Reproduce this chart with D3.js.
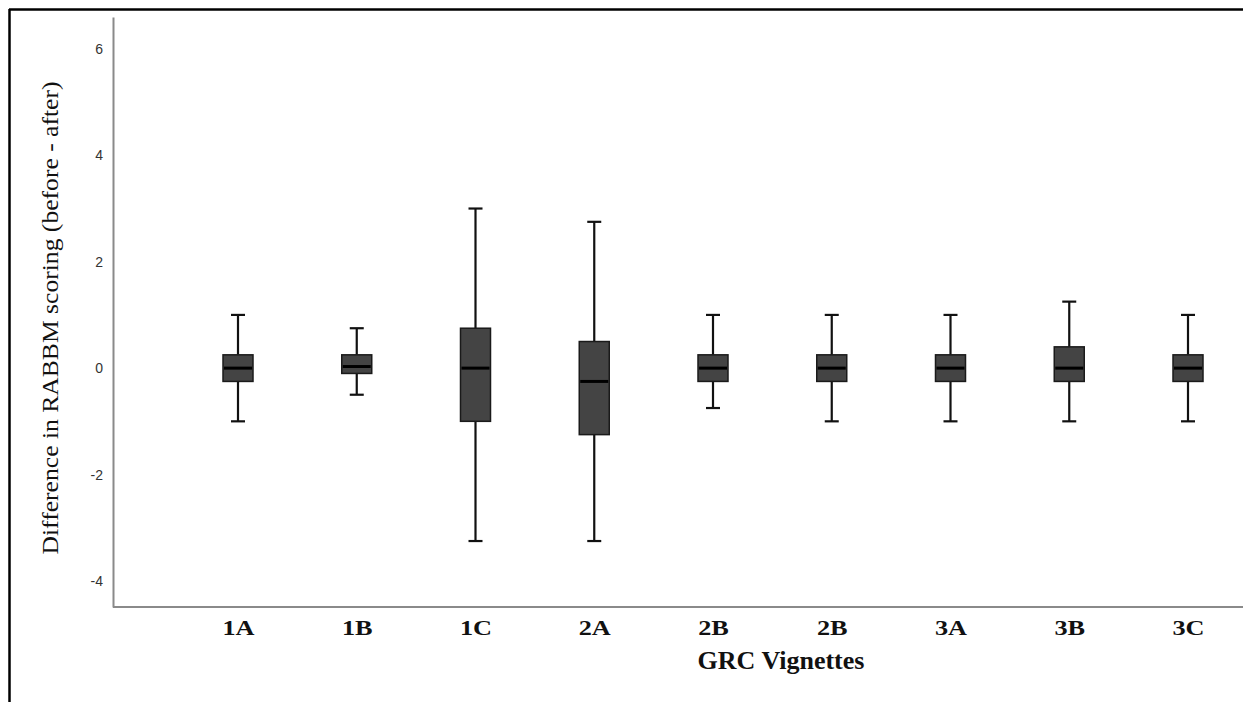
<!DOCTYPE html>
<html>
<head>
<meta charset="utf-8">
<script src="https://cdn.jsdelivr.net/npm/d3@7"></script>
<style>
  html, body { margin: 0; padding: 0; background: #fff; }
  svg { display: block; }
</style>
</head>
<body>
<svg id="chart" width="1243" height="702"></svg>
<script>
// ---- data ----
const categories = ["1A", "1B", "1C", "2A", "2B", "2B", "3A", "3B", "3C"];
const whiskerLow  = [-1, -0.5, -3.25, -3.25, -0.75, -1, -1, -1, -1];
const q1          = [-0.25, -0.1, -1, -1.25, -0.25, -0.25, -0.25, -0.25, -0.25];
const medians     = [0, 0.03, 0, -0.25, 0, 0, 0, 0, 0];
const q3          = [0.25, 0.25, 0.75, 0.5, 0.25, 0.25, 0.25, 0.4, 0.25];
const whiskerHigh = [1, 0.75, 3, 2.75, 1, 1, 1, 1.25, 1];
const yTicks = [-4, -2, 0, 2, 4, 6];
const yTitle = "Difference in RABBM scoring (before - after)";
const xTitle = "GRC Vignettes";

const svg = d3.select("#chart");
const W = 1243, H = 702;

// frame (top & left border of the pasted figure)
svg.append("line").attr("x1", 9).attr("x2", W).attr("y1", 9.5).attr("y2", 9.5)
  .attr("stroke", "#000").attr("stroke-width", 2.5);
svg.append("line").attr("x1", 9.5).attr("x2", 9.5).attr("y1", 9).attr("y2", H)
  .attr("stroke", "#000").attr("stroke-width", 2.5);

const axisX = 113, axisBottom = 607, axisTop = 17;
const y = d3.scaleLinear().domain([-4.49, 6.6]).range([axisBottom, axisTop]);
const idx = categories.map((d, i) => i);
const x = d3.scalePoint().domain(idx).range([238, 1188]);

// y axis
const yAxis = svg.append("g").attr("transform", `translate(${axisX},0)`)
  .call(d3.axisLeft(y).tickValues(yTicks).tickSize(0).tickPadding(10)
        .tickFormat(d => d < 0 ? "-" + Math.abs(d) : String(d)));
yAxis.select(".domain").attr("stroke", "#8a8a8a").attr("stroke-width", 2);
yAxis.selectAll("text").attr("font-family", "Liberation Sans, Arial, sans-serif")
  .attr("font-size", 14).attr("fill", "#333");

// x axis
const xAxis = svg.append("g").attr("transform", `translate(0,${axisBottom})`)
  .call(d3.axisBottom(x).tickSize(0).tickPadding(0).tickFormat(i => categories[i]));
xAxis.select(".domain").attr("d", `M${axisX},0H${W}`).attr("stroke", "#8a8a8a").attr("stroke-width", 2);
xAxis.selectAll("text")
  .attr("font-family", "Liberation Serif, Times New Roman, serif")
  .attr("font-weight", "bold").attr("font-size", 21).attr("fill", "#111")
  .attr("dy", null).attr("y", 28)
  .each(function() {
    const w = this.getComputedTextLength();
    d3.select(this).attr("textLength", w * 1.25).attr("lengthAdjust", "spacingAndGlyphs");
  });

// boxes
const boxW = 30, capW = 14;
const g = svg.append("g");
idx.forEach(i => {
  const cx = x(i);
  g.append("line").attr("x1", cx).attr("x2", cx)
    .attr("y1", y(whiskerHigh[i])).attr("y2", y(q3[i]))
    .attr("stroke", "#111").attr("stroke-width", 2.2);
  g.append("line").attr("x1", cx).attr("x2", cx)
    .attr("y1", y(q1[i])).attr("y2", y(whiskerLow[i]))
    .attr("stroke", "#111").attr("stroke-width", 2.2);
  g.append("line").attr("x1", cx - capW / 2).attr("x2", cx + capW / 2)
    .attr("y1", y(whiskerHigh[i])).attr("y2", y(whiskerHigh[i]))
    .attr("stroke", "#111").attr("stroke-width", 2.2);
  g.append("line").attr("x1", cx - capW / 2).attr("x2", cx + capW / 2)
    .attr("y1", y(whiskerLow[i])).attr("y2", y(whiskerLow[i]))
    .attr("stroke", "#111").attr("stroke-width", 2.2);
  g.append("rect").attr("x", cx - boxW / 2).attr("width", boxW)
    .attr("y", y(q3[i])).attr("height", y(q1[i]) - y(q3[i]))
    .attr("fill", "#444").attr("stroke", "#1a1a1a").attr("stroke-width", 1.5);
  g.append("line").attr("x1", cx - boxW / 2 + 1).attr("x2", cx + boxW / 2 - 1)
    .attr("y1", y(medians[i])).attr("y2", y(medians[i]))
    .attr("stroke", "#000").attr("stroke-width", 3);
});

// titles
svg.append("text").attr("transform", "translate(58,318) rotate(-90)")
  .attr("text-anchor", "middle")
  .attr("font-family", "Liberation Serif, Times New Roman, serif")
  .attr("font-size", 24).attr("fill", "#111")
  .attr("textLength", 473).attr("lengthAdjust", "spacingAndGlyphs")
  .text(yTitle);

svg.append("text").attr("x", 781).attr("y", 669)
  .attr("text-anchor", "middle")
  .attr("font-family", "Liberation Serif, Times New Roman, serif")
  .attr("font-weight", "bold").attr("font-size", 26).attr("fill", "#111")
  .text(xTitle);
</script>
</body>
</html>
